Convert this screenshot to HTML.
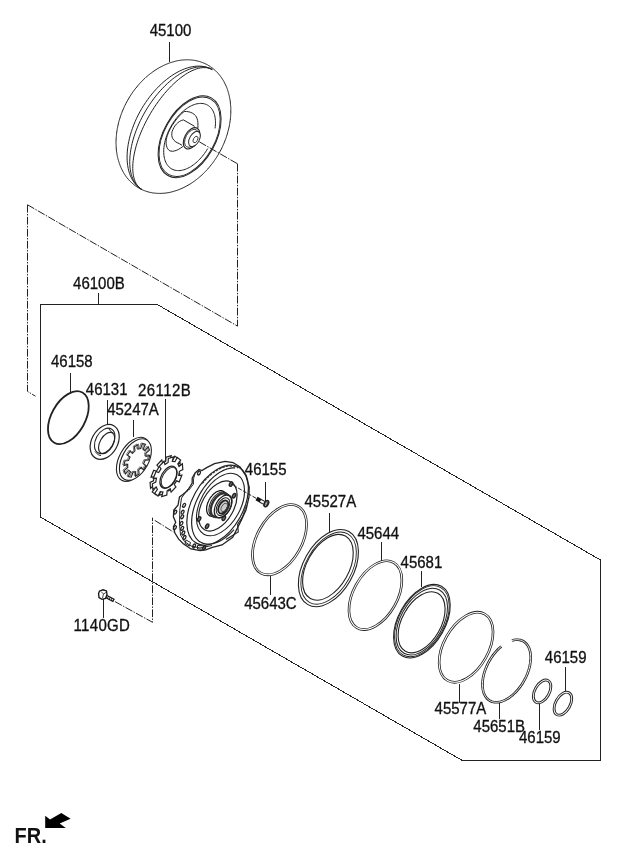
<!DOCTYPE html>
<html><head><meta charset="utf-8"><style>
html,body{margin:0;padding:0;background:#fff;}
svg{display:block;will-change:transform;}
text{font-family:"Liberation Sans",sans-serif;fill:#111;}
</style></head><body>
<svg width="620" height="848" viewBox="0 0 620 848">
<rect width="620" height="848" fill="#fff"/>
<text transform="translate(149.7 35.8) scale(1 1.05)" font-size="15" font-weight="normal" stroke="#111" stroke-width="0.3">45100</text>
<text transform="translate(73.1 288.9) scale(1 1.05)" font-size="15" font-weight="normal" stroke="#111" stroke-width="0.3">46100B</text>
<text transform="translate(51.0 367.4) scale(1 1.05)" font-size="15" font-weight="normal" stroke="#111" stroke-width="0.3">46158</text>
<text transform="translate(85.8 394.8) scale(1 1.05)" font-size="15" font-weight="normal" stroke="#111" stroke-width="0.3">46131</text>
<text transform="translate(107.19999999999999 414.6) scale(1 1.05)" font-size="15" font-weight="normal" stroke="#111" stroke-width="0.3">45247A</text>
<text transform="translate(137.9 396) scale(1 1.05)" font-size="15" font-weight="normal" stroke="#111" stroke-width="0.3" letter-spacing="0.45">26112B</text>
<text transform="translate(244.79999999999998 474.6) scale(1 1.05)" font-size="15" font-weight="normal" stroke="#111" stroke-width="0.3">46155</text>
<text transform="translate(304.5 507.4) scale(1 1.05)" font-size="15" font-weight="normal" stroke="#111" stroke-width="0.3">45527A</text>
<text transform="translate(357.40000000000003 539) scale(1 1.05)" font-size="15" font-weight="normal" stroke="#111" stroke-width="0.3">45644</text>
<text transform="translate(400.6 568.4) scale(1 1.05)" font-size="15" font-weight="normal" stroke="#111" stroke-width="0.3">45681</text>
<text transform="translate(244.2 608.9) scale(1 1.05)" font-size="15" font-weight="normal" stroke="#111" stroke-width="0.3">45643C</text>
<text transform="translate(73.6 630.6) scale(1 1.05)" font-size="15" font-weight="normal" stroke="#111" stroke-width="0.3" letter-spacing="0.3">1140GD</text>
<text transform="translate(434.6 714) scale(1 1.05)" font-size="15" font-weight="normal" stroke="#111" stroke-width="0.3">45577A</text>
<text transform="translate(473.3 731.6) scale(1 1.05)" font-size="15" font-weight="normal" stroke="#111" stroke-width="0.3">45651B</text>
<text transform="translate(544.8000000000001 662.9) scale(1 1.05)" font-size="15" font-weight="normal" stroke="#111" stroke-width="0.3">46159</text>
<text transform="translate(519.0 742.9) scale(1 1.05)" font-size="15" font-weight="normal" stroke="#111" stroke-width="0.3">46159</text>
<line x1="169.7" y1="42.3" x2="169.7" y2="61.6" stroke="#222" stroke-width="1" shape-rendering="crispEdges"/>
<line x1="98.3" y1="293" x2="98.3" y2="304.4" stroke="#222" stroke-width="1" shape-rendering="crispEdges"/>
<line x1="70.6" y1="373" x2="70.6" y2="392" stroke="#222" stroke-width="1" shape-rendering="crispEdges"/>
<line x1="107.6" y1="399.8" x2="107.6" y2="423.6" stroke="#222" stroke-width="1" shape-rendering="crispEdges"/>
<line x1="133.6" y1="419.5" x2="133.6" y2="437" stroke="#222" stroke-width="1" shape-rendering="crispEdges"/>
<line x1="165" y1="399" x2="165" y2="460.6" stroke="#222" stroke-width="1" shape-rendering="crispEdges"/>
<line x1="265.6" y1="481.6" x2="265.6" y2="501.4" stroke="#222" stroke-width="1" shape-rendering="crispEdges"/>
<line x1="329.6" y1="513" x2="329.6" y2="532" stroke="#222" stroke-width="1" shape-rendering="crispEdges"/>
<line x1="381.7" y1="541.7" x2="381.7" y2="561" stroke="#222" stroke-width="1" shape-rendering="crispEdges"/>
<line x1="421" y1="570.6" x2="421" y2="586.8" stroke="#222" stroke-width="1" shape-rendering="crispEdges"/>
<line x1="270.6" y1="574.6" x2="270.6" y2="594.6" stroke="#222" stroke-width="1" shape-rendering="crispEdges"/>
<line x1="103.5" y1="598.7" x2="103.5" y2="618" stroke="#222" stroke-width="1" shape-rendering="crispEdges"/>
<line x1="459.2" y1="683.5" x2="459.2" y2="703" stroke="#222" stroke-width="1" shape-rendering="crispEdges"/>
<line x1="499.5" y1="703" x2="499.5" y2="719" stroke="#222" stroke-width="1" shape-rendering="crispEdges"/>
<line x1="565.3" y1="667" x2="565.3" y2="691.3" stroke="#222" stroke-width="1" shape-rendering="crispEdges"/>
<line x1="539.2" y1="703.7" x2="539.2" y2="730.3" stroke="#222" stroke-width="1" shape-rendering="crispEdges"/>
<polyline points="40.5,517.1 40.5,304.5 157.3,304.5 600.5,560 600.5,760 461.4,760 40.5,517.1" fill="none" stroke="#222" stroke-width="1" shape-rendering="crispEdges"/>
<polyline points="27.5,204.8 27.5,391.4 35.5,396.2" fill="none" stroke="#222" stroke-width="1" stroke-dasharray="7.8,1.4,1.4,1.4"/>
<polyline points="27.5,204.8 237.5,326.1" fill="none" stroke="#222" stroke-width="1" stroke-dasharray="7.8,1.4,1.4,1.4"/>
<polyline points="237.5,163.7 237.5,326.1" fill="none" stroke="#222" stroke-width="1" stroke-dasharray="7.8,1.4,1.4,1.4"/>
<polyline points="115,601.6 152.5,622.3 152.5,517.7" fill="none" stroke="#222" stroke-width="1" stroke-dasharray="7.8,1.4,1.4,1.4"/>
<polyline points="154.8,520.4 173.4,532" fill="none" stroke="#222" stroke-width="1" stroke-dasharray="7.8,1.4,1.4,1.4"/>
<line x1="105" y1="595.8" x2="114" y2="600.6" stroke="#111" stroke-width="3.6"/>
<line x1="106.5" y1="596.6" x2="113.2" y2="600.2" stroke="#fff" stroke-width="1.3" stroke-dasharray="1.2,0.8"/>
<polygon points="99.5,591 103,589.8 106.5,591 107,594.5 105.5,598.5 102,599.3 99,597.5 98.6,593.5" fill="#fff" stroke="#111" stroke-width="1.3"/>
<path d="M101,591.5 L103.5,594 L106,592.5 M103.5,594 L102.5,598" fill="none" stroke="#333" stroke-width="0.9"/>
<ellipse cx="68.35" cy="417.7" rx="28.80" ry="16.88" transform="rotate(-60.7 68.35 417.7)" fill="none" stroke="#222" stroke-width="1.8"/>
<ellipse cx="104.7" cy="441.9" rx="18.60" ry="13.00" transform="rotate(-60.7 104.7 441.9)" fill="#fff" stroke="#222" stroke-width="1.2"/>
<ellipse cx="104.7" cy="440.9" rx="13.70" ry="8.90" transform="rotate(-60.7 104.7 440.9)" fill="none" stroke="#222" stroke-width="1.1"/>
<ellipse cx="106.6" cy="443" rx="11.60" ry="6.60" transform="rotate(-60.7 106.6 443)" fill="none" stroke="#222" stroke-width="1.1"/>
<polyline points="108.5,428.5 111.5,432 113.5,433" fill="none" stroke="#222" stroke-width="1"/>
<polyline points="95,451.5 98.5,455 101,455.5" fill="none" stroke="#222" stroke-width="1"/>
<ellipse cx="133.4" cy="459.35" rx="24.00" ry="14.06" transform="rotate(-60.7 133.4 459.35)" fill="#fff" stroke="#222" stroke-width="1.1"/>
<ellipse cx="135.4" cy="459.6" rx="22.60" ry="13.24" transform="rotate(-60.7 135.4 459.6)" fill="#fff" stroke="#222" stroke-width="1.1"/>
<g transform="matrix(0.4894,-0.8721,0.5110,0.2868,136.8,460.4)"><path d="M17.39,-5.69 L18.29,-0.61 L13.00,-0.15 L12.46,3.72 L17.41,5.62 L15.15,10.26 L10.60,7.52 L7.89,10.33 L10.78,14.79 L6.23,17.21 L4.16,12.32 L0.31,13.00 L0.03,18.30 L-5.07,17.58 L-3.88,12.41 L-7.39,10.70 L-10.73,14.82 L-14.44,11.24 L-10.43,7.76 L-12.26,4.31 L-17.39,5.69 L-18.29,0.61 L-13.00,0.15 L-12.46,-3.72 L-17.41,-5.62 L-15.15,-10.26 L-10.60,-7.52 L-7.89,-10.33 L-10.78,-14.79 L-6.23,-17.21 L-4.16,-12.32 L-0.31,-13.00 L-0.03,-18.30 L5.07,-17.58 L3.88,-12.41 L7.39,-10.70 L10.73,-14.82 L14.44,-11.24 L10.43,-7.76 L12.26,-4.31Z" fill="none" stroke="#222" stroke-width="1.1" vector-effect="non-scaling-stroke"/></g>
<g transform="matrix(0.4894,-0.8721,0.5110,0.2868,135.6,459.8)"><path d="M17.39,-5.69 L18.29,-0.61 L13.00,-0.15 L12.46,3.72 L17.41,5.62 L15.15,10.26 L10.60,7.52 L7.89,10.33 L10.78,14.79 L6.23,17.21 L4.16,12.32 L0.31,13.00 L0.03,18.30 L-5.07,17.58 L-3.88,12.41 L-7.39,10.70 L-10.73,14.82 L-14.44,11.24 L-10.43,7.76 L-12.26,4.31 L-17.39,5.69 L-18.29,0.61 L-13.00,0.15 L-12.46,-3.72 L-17.41,-5.62 L-15.15,-10.26 L-10.60,-7.52 L-7.89,-10.33 L-10.78,-14.79 L-6.23,-17.21 L-4.16,-12.32 L-0.31,-13.00 L-0.03,-18.30 L5.07,-17.58 L3.88,-12.41 L7.39,-10.70 L10.73,-14.82 L14.44,-11.24 L10.43,-7.76 L12.26,-4.31Z" fill="none" stroke="#444" stroke-width="0.7" vector-effect="non-scaling-stroke"/></g>
<g transform="matrix(0.4894,-0.8721,0.5110,0.2868,165.3,475.4)"><path d="M15.73,-5.90 L16.72,-1.59 L21.52,-1.85 L20.87,5.55 L16.19,4.47 L14.47,8.54 L18.50,11.16 L13.62,16.76 L10.47,13.14 L6.68,15.41 L8.41,19.90 L1.17,21.57 L0.75,16.78 L-3.65,16.40 L-4.90,21.04 L-11.73,18.14 L-9.26,14.02 L-12.59,11.12 L-16.33,14.14 L-20.15,7.78 L-15.73,5.90 L-16.72,1.59 L-21.52,1.85 L-20.87,-5.55 L-16.19,-4.47 L-14.47,-8.54 L-18.50,-11.16 L-13.62,-16.76 L-10.47,-13.14 L-6.68,-15.41 L-8.41,-19.90 L-1.17,-21.57 L-0.75,-16.78 L3.65,-16.40 L4.90,-21.04 L11.73,-18.14 L9.26,-14.02 L12.59,-11.12 L16.33,-14.14 L20.15,-7.78Z" fill="#fff" stroke="#222" stroke-width="1.2" vector-effect="non-scaling-stroke"/></g>
<g transform="matrix(0.4894,-0.8721,0.5110,0.2868,167.6,476.7)"><path d="M15.73,-5.90 L16.72,-1.59 L21.52,-1.85 L20.87,5.55 L16.19,4.47 L14.47,8.54 L18.50,11.16 L13.62,16.76 L10.47,13.14 L6.68,15.41 L8.41,19.90 L1.17,21.57 L0.75,16.78 L-3.65,16.40 L-4.90,21.04 L-11.73,18.14 L-9.26,14.02 L-12.59,11.12 L-16.33,14.14 L-20.15,7.78 L-15.73,5.90 L-16.72,1.59 L-21.52,1.85 L-20.87,-5.55 L-16.19,-4.47 L-14.47,-8.54 L-18.50,-11.16 L-13.62,-16.76 L-10.47,-13.14 L-6.68,-15.41 L-8.41,-19.90 L-1.17,-21.57 L-0.75,-16.78 L3.65,-16.40 L4.90,-21.04 L11.73,-18.14 L9.26,-14.02 L12.59,-11.12 L16.33,-14.14 L20.15,-7.78Z" fill="#fff" stroke="#222" stroke-width="1.2" vector-effect="non-scaling-stroke"/></g>
<ellipse cx="168.4" cy="477.2" rx="12.00" ry="7.03" transform="rotate(-60.7 168.4 477.2)" fill="none" stroke="#222" stroke-width="1.3"/>
<ellipse cx="169.2" cy="477.7" rx="11.20" ry="6.56" transform="rotate(-60.7 169.2 477.7)" fill="none" stroke="#222" stroke-width="0.9"/>
<ellipse cx="279.5" cy="539.7" rx="38.20" ry="22.39" transform="rotate(-60.7 279.5 539.7)" fill="none" stroke="#222" stroke-width="2.6"/>
<ellipse cx="279.5" cy="539.7" rx="38.20" ry="22.39" transform="rotate(-60.7 279.5 539.7)" fill="none" stroke="#fff" stroke-width="1.0"/>
<ellipse cx="328.4" cy="568.1" rx="41.90" ry="25.14" transform="rotate(-60.7 328.4 568.1)" fill="none" stroke="#222" stroke-width="1.1"/>
<ellipse cx="328.6" cy="568.1" rx="39.20" ry="22.97" transform="rotate(-60.7 328.6 568.1)" fill="none" stroke="#222" stroke-width="0.9"/>
<ellipse cx="327.9" cy="567.3" rx="35.80" ry="20.98" transform="rotate(-60.7 327.9 567.3)" fill="none" stroke="#222" stroke-width="1.1"/>
<ellipse cx="375.4" cy="595.15" rx="37.40" ry="21.92" transform="rotate(-60.7 375.4 595.15)" fill="none" stroke="#222" stroke-width="2.6"/>
<ellipse cx="375.4" cy="595.15" rx="37.40" ry="21.92" transform="rotate(-60.7 375.4 595.15)" fill="none" stroke="#fff" stroke-width="1.0"/>
<ellipse cx="421.9" cy="621.2" rx="40.00" ry="23.44" transform="rotate(-60.7 421.9 621.2)" fill="none" stroke="#222" stroke-width="1.1"/>
<ellipse cx="421.9" cy="621.2" rx="38.60" ry="22.62" transform="rotate(-60.7 421.9 621.2)" fill="none" stroke="#222" stroke-width="0.9"/>
<ellipse cx="421.8" cy="621.6" rx="36.30" ry="21.27" transform="rotate(-60.7 421.8 621.6)" fill="none" stroke="#222" stroke-width="1"/>
<ellipse cx="421.6" cy="622.3" rx="33.20" ry="19.46" transform="rotate(-60.7 421.6 622.3)" fill="none" stroke="#222" stroke-width="1.1"/>
<ellipse cx="466.1" cy="647.25" rx="38.10" ry="22.33" transform="rotate(-60.7 466.1 647.25)" fill="none" stroke="#222" stroke-width="2.6"/>
<ellipse cx="466.1" cy="647.25" rx="38.10" ry="22.33" transform="rotate(-60.7 466.1 647.25)" fill="none" stroke="#fff" stroke-width="1.0"/>
<polyline points="511.93,640.47 513.07,640.17 514.19,639.94 515.29,639.79 516.38,639.71 517.44,639.7 518.48,639.77 519.48,639.91 520.46,640.13 521.4,640.41 522.31,640.77 523.19,641.21 524.02,641.71 524.81,642.28 525.56,642.92 526.26,643.62 526.92,644.4 527.53,645.23 528.09,646.12 528.59,647.08 529.05,648.09 529.45,649.15 529.8,650.27 530.1,651.43 530.34,652.65 530.52,653.9 530.64,655.2 530.71,656.53 530.73,657.9 530.68,659.29 530.58,660.72 530.42,662.17 530.2,663.64 529.93,665.13 529.61,666.63 529.23,668.14 528.79,669.66 528.3,671.19 527.77,672.71 527.18,674.23 526.54,675.74 525.86,677.24 525.13,678.72 524.35,680.19 523.54,681.63 522.68,683.05 521.79,684.44 520.86,685.8 519.9,687.12 518.9,688.41 517.88,689.65 516.83,690.86 515.75,692.01 514.65,693.11 513.54,694.16 512.41,695.16 511.26,696.1 510.1,696.98 508.94,697.8 507.77,698.55 506.6,699.24 505.42,699.87 504.25,700.42 503.09,700.91 501.93,701.32 500.78,701.66 499.65,701.93 498.54,702.13 497.44,702.25 496.37,702.3 495.32,702.28 494.29,702.18 493.3,702.01 492.33,701.76 491.4,701.44 490.51,701.05 489.66,700.59 488.84,700.06 488.07,699.46 487.34,698.79 486.65,698.05 486.02,697.26 485.43,696.4 484.89,695.48 484.4,694.5 483.97,693.46 483.59,692.38 483.26,691.24 482.99,690.06 482.78,688.82 482.62,687.55 482.52,686.24 482.47,684.89 482.49,683.51 482.56,682.1 482.68,680.67 482.87,679.21 483.1,677.73 483.4,676.23 483.75,674.73 484.15,673.21 484.61,671.69 485.12,670.17 485.68,668.64 486.29,667.13 486.94,665.62 487.65,664.13 488.4,662.65 489.19,661.19 490.02,659.76 490.89,658.35 491.8,656.98 492.75,655.63 493.72,654.32 494.73,653.05 495.77,651.83 496.83,650.65 497.91,649.51 499.02,648.43 500.14,647.4 501.28,646.43" fill="none" stroke="#222" stroke-width="2.6"/>
<polyline points="511.93,640.47 513.07,640.17 514.19,639.94 515.29,639.79 516.38,639.71 517.44,639.7 518.48,639.77 519.48,639.91 520.46,640.13 521.4,640.41 522.31,640.77 523.19,641.21 524.02,641.71 524.81,642.28 525.56,642.92 526.26,643.62 526.92,644.4 527.53,645.23 528.09,646.12 528.59,647.08 529.05,648.09 529.45,649.15 529.8,650.27 530.1,651.43 530.34,652.65 530.52,653.9 530.64,655.2 530.71,656.53 530.73,657.9 530.68,659.29 530.58,660.72 530.42,662.17 530.2,663.64 529.93,665.13 529.61,666.63 529.23,668.14 528.79,669.66 528.3,671.19 527.77,672.71 527.18,674.23 526.54,675.74 525.86,677.24 525.13,678.72 524.35,680.19 523.54,681.63 522.68,683.05 521.79,684.44 520.86,685.8 519.9,687.12 518.9,688.41 517.88,689.65 516.83,690.86 515.75,692.01 514.65,693.11 513.54,694.16 512.41,695.16 511.26,696.1 510.1,696.98 508.94,697.8 507.77,698.55 506.6,699.24 505.42,699.87 504.25,700.42 503.09,700.91 501.93,701.32 500.78,701.66 499.65,701.93 498.54,702.13 497.44,702.25 496.37,702.3 495.32,702.28 494.29,702.18 493.3,702.01 492.33,701.76 491.4,701.44 490.51,701.05 489.66,700.59 488.84,700.06 488.07,699.46 487.34,698.79 486.65,698.05 486.02,697.26 485.43,696.4 484.89,695.48 484.4,694.5 483.97,693.46 483.59,692.38 483.26,691.24 482.99,690.06 482.78,688.82 482.62,687.55 482.52,686.24 482.47,684.89 482.49,683.51 482.56,682.1 482.68,680.67 482.87,679.21 483.1,677.73 483.4,676.23 483.75,674.73 484.15,673.21 484.61,671.69 485.12,670.17 485.68,668.64 486.29,667.13 486.94,665.62 487.65,664.13 488.4,662.65 489.19,661.19 490.02,659.76 490.89,658.35 491.8,656.98 492.75,655.63 493.72,654.32 494.73,653.05 495.77,651.83 496.83,650.65 497.91,649.51 499.02,648.43 500.14,647.4 501.28,646.43" fill="none" stroke="#fff" stroke-width="1.0"/>
<ellipse cx="542.1" cy="691.45" rx="12.40" ry="7.27" transform="rotate(-60.7 542.1 691.45)" fill="none" stroke="#222" stroke-width="2.8"/>
<ellipse cx="542.1" cy="691.45" rx="12.40" ry="7.27" transform="rotate(-60.7 542.1 691.45)" fill="none" stroke="#fff" stroke-width="0.9"/>
<ellipse cx="562.9" cy="703.7" rx="12.50" ry="7.32" transform="rotate(-60.7 562.9 703.7)" fill="none" stroke="#222" stroke-width="2.8"/>
<ellipse cx="562.9" cy="703.7" rx="12.50" ry="7.32" transform="rotate(-60.7 562.9 703.7)" fill="none" stroke="#fff" stroke-width="0.9"/>
<path d="M116.0,142.3 L116.0,141.2 L116.1,140.1 L116.1,138.9 L116.2,137.8 L116.3,136.6 L116.4,135.5 L116.5,134.3 L116.6,133.1 L116.8,132.0 L117.0,130.8 L117.1,129.7 L117.3,128.5 L117.6,127.3 L117.8,126.2 L118.1,125.0 L118.6,122.7 L118.9,121.5 L119.2,120.3 L119.6,119.2 L120.0,118.0 L120.3,116.9 L120.7,115.7 L121.1,114.6 L121.5,113.4 L122.0,112.3 L122.4,111.1 L122.9,110.0 L123.4,108.9 L123.9,107.8 L124.4,106.6 L124.9,105.5 L126.0,103.3 L127.2,101.2 L127.8,100.1 L128.4,99.0 L129.0,98.0 L129.6,96.9 L130.3,95.9 L131.0,94.8 L131.7,93.8 L132.3,92.8 L133.0,91.8 L133.8,90.8 L134.5,89.8 L135.2,88.9 L136.8,87.0 L137.5,86.0 L138.3,85.1 L139.1,84.2 L139.9,83.3 L140.7,82.4 L141.6,81.6 L142.4,80.7 L143.2,79.9 L144.1,79.0 L145.0,78.2 L145.8,77.4 L146.7,76.7 L147.6,75.9 L148.5,75.1 L149.4,74.4 L150.3,73.7 L151.3,73.0 L152.2,72.3 L153.1,71.6 L154.1,71.0 L155.0,70.3 L156.0,69.7 L156.9,69.1 L157.9,68.5 L158.8,68.0 L159.8,67.4 L160.8,66.9 L161.8,66.4 L162.8,65.9 L163.7,65.4 L164.7,64.9 L165.7,64.5 L166.7,64.1 L167.7,63.7 L168.7,63.3 L169.7,62.9 L170.7,62.6 L171.7,62.3 L172.7,62.0 L173.7,61.7 L174.7,61.4 L175.7,61.2 L176.7,60.9 L177.7,60.7 L178.7,60.5 L179.7,60.4 L180.7,60.2 L181.7,60.1 L182.7,60.0 L183.7,59.9 L184.7,59.9 L185.6,59.8 L186.6,59.8 L187.6,59.8 L188.6,59.8 L189.5,59.9 L190.5,59.9 L191.4,60.0 L192.4,60.1 L193.3,60.2 L194.3,60.3 L195.2,60.5 L196.1,60.7 L197.0,60.9 L197.9,61.1 L198.8,61.3 L199.7,61.6 L200.6,61.9 L201.5,62.2 L202.4,62.5 L203.2,62.8 L204.1,63.2 L204.9,63.6 L205.8,64.0 L206.6,64.4 L207.4,64.8 L208.2,65.3 L209.0,65.8 L209.8,66.2 L210.5,66.8 L211.3,67.3 L212.0,67.8 L212.8,68.4 L213.5,69.0 L214.2,69.6 L214.9,70.2 L215.6,70.8 L216.3,71.5 L216.9,72.1 L217.6,72.8 L218.2,73.5 L218.8,74.2 L219.4,75.0 L220.0,75.7 L220.6,76.5 L221.2,77.2 L221.7,78.0 L222.2,78.8 L222.8,79.7 L223.3,80.5 L223.8,81.4 L224.2,82.2 L224.7,83.1 L225.1,84.0 L225.6,84.9 L226.0,85.8 L226.4,86.8 L226.8,87.7 L227.1,88.6 L227.5,89.6 L227.8,90.6 L228.1,91.6 L228.4,92.6 L228.7,93.6 L228.9,94.6 L229.2,95.6 L229.4,96.7 L229.6,97.7 L229.8,98.8 L230.0,99.8 L230.2,100.9 L230.3,102.0 L230.4,103.1 L230.5,104.2 L230.6,105.3 L230.7,106.4 L230.8,107.5 L230.8,108.6 L230.8,109.7 L230.8,110.9 L230.8,112.0 L230.8,113.1 L230.7,114.3 L230.7,115.4 L230.6,116.6 L230.5,117.7 L230.4,118.9 L230.2,120.1 L230.1,121.2 L229.7,123.5 L229.5,124.7 L229.3,125.9 L229.1,127.0 L228.8,128.2 L228.2,130.5 L227.9,131.7 L227.6,132.9 L227.3,134.0 L226.9,135.2 L226.5,136.3 L226.2,137.5 L225.8,138.6 L225.3,139.8 L224.9,140.9 L224.4,142.1 L224.0,143.2 L223.5,144.3 L223.0,145.4 L222.5,146.6 L222.0,147.7 L220.9,149.9 L219.7,152.0 L219.1,153.1 L218.5,154.2 L217.9,155.2 L217.2,156.3 L216.6,157.3 L215.9,158.3 L215.2,159.4 L214.5,160.4 L213.8,161.4 L213.1,162.4 L212.4,163.4 L211.6,164.3 L210.1,166.2 L209.3,167.2 L208.5,168.1 L207.8,169.0 L206.9,169.9 L206.1,170.8 L205.3,171.6 L204.4,172.5 L203.6,173.3 L202.8,174.2 L201.9,175.0 L201.0,175.8 L200.1,176.5 L199.2,177.3 L198.3,178.1 L197.4,178.8 L196.5,179.5 L195.6,180.2 L194.7,180.9 L193.7,181.6 L192.8,182.2 L191.8,182.9 L190.9,183.5 L189.9,184.1 L189.0,184.7 L188.0,185.2 L187.0,185.8 L186.1,186.3 L185.1,186.8 L184.1,187.3 L183.1,187.8 L182.1,188.3 L181.1,188.7 L180.2,189.1 L179.2,189.5 L178.2,189.9 L177.2,190.3 L176.2,190.6 L175.2,190.9 L174.2,191.2 L173.2,191.5 L172.2,191.8 L171.2,192.0 L170.2,192.3 L169.2,192.5 L168.2,192.7 L167.2,192.8 L166.2,193.0 L165.2,193.1 L164.2,193.2 L163.2,193.3 L162.2,193.3 L161.2,193.4 L160.2,193.4 L159.3,193.4 L158.3,193.4 L157.3,193.3 L156.4,193.3 L155.4,193.2 L154.5,193.1 L153.5,193.0 L152.6,192.9 L151.7,192.7 L150.8,192.5 L149.8,192.3 L148.9,192.1 L148.0,191.9 L147.1,191.6 L146.2,191.3 L145.4,191.0 L144.5,190.7 L143.6,190.4 L142.8,190.0 L141.9,189.6 L141.1,189.2 L140.3,188.8 L139.5,188.4 L138.7,187.9 L137.9,187.4 L137.1,187.0 L136.3,186.4 L135.6,185.9 L134.8,185.4 L134.1,184.8 L133.4,184.2 L132.7,183.6 L131.9,183.0 L131.3,182.4 L130.6,181.7 L129.9,181.1 L129.3,180.4 L128.7,179.7 L128.0,179.0 L127.4,178.2 L126.8,177.5 L126.2,176.7 L125.7,175.9 L125.1,175.2 L124.6,174.3 L124.1,173.5 L123.6,172.7 L123.1,171.8 L122.6,171.0 L122.2,170.1 L121.7,169.2 L121.3,168.3 L120.9,167.4 L120.5,166.4 L120.1,165.5 L119.8,164.6 L119.4,163.6 L119.1,162.6 L118.8,161.6 L118.5,160.6 L118.2,159.6 L117.9,158.6 L117.7,157.6 L117.4,156.5 L117.2,155.5 L117.0,154.4 L116.9,153.4 L116.7,152.3 L116.5,151.2 L116.4,150.1 L116.3,149.0 L116.2,147.9 L116.2,146.8 L116.1,145.7 L116.1,144.6 L116.0,143.5Z" fill="#fff" stroke="#222" stroke-width="1"/>
<polyline points="212.27,69.62 210.38,68.61 208.39,67.77 206.31,67.1 204.16,66.6 201.93,66.27 199.63,66.12 197.27,66.14 194.86,66.33 192.39,66.7 189.88,67.24 187.34,67.94 184.77,68.82 182.18,69.87 179.58,71.07 176.96,72.44 174.35,73.97 171.74,75.64 169.15,77.47 166.58,79.43 164.04,81.54 161.54,83.77 159.07,86.13 156.66,88.61 154.3,91.2 152.01,93.9 149.78,96.7 147.63,99.58 145.55,102.55 143.57,105.59 141.67,108.69 139.88,111.85 138.18,115.06 136.59,118.31 135.11,121.6 133.75,124.9 132.5,128.21 131.38,131.53 130.38,134.85 129.51,138.15 128.77,141.42 128.16,144.66 127.69,147.86 127.35,151.01 127.14,154.11 127.08,157.13 127.15,160.08 127.36,162.94 127.7,165.72 128.18,168.39 128.79,170.96 129.53,173.41 130.41,175.74 131.41,177.95 132.54,180.02 133.78,181.96 135.15,183.75 136.63,185.39 138.23,186.88 139.93,188.21 141.73,189.38" fill="none" stroke="#222" stroke-width="1"/>
<polyline points="212.27,69.62 210.58,68.73 208.79,68.01 206.92,67.46 204.96,67.07 202.93,66.86 200.83,66.82 198.66,66.96 196.43,67.26 194.15,67.73 191.82,68.38 189.45,69.19 187.05,70.16 184.62,71.3 182.17,72.6 179.7,74.06 177.23,75.66 174.76,77.42 172.29,79.31 169.84,81.35 167.4,83.52 164.99,85.81 162.62,88.22 160.28,90.75 157.99,93.38 155.75,96.11 153.57,98.93 151.46,101.84 149.41,104.82 147.44,107.87 145.55,110.97 143.75,114.13 142.04,117.34 140.42,120.57 138.9,123.83 137.49,127.1 136.19,130.39 135.0,133.67 133.92,136.93 132.96,140.18 132.13,143.4 131.41,146.58 130.82,149.71 130.36,152.79 130.03,155.8 129.82,158.74 129.74,161.61 129.8,164.38 129.98,167.06 130.29,169.63 130.73,172.1 131.29,174.45 131.98,176.67 132.8,178.77 133.73,180.73 134.79,182.55 135.96,184.22 137.24,185.75 138.63,187.12 140.13,188.33 141.73,189.38" fill="none" stroke="#222" stroke-width="1"/>
<polyline points="212.27,69.62 210.83,68.88 209.29,68.3 207.66,67.89 205.95,67.65 204.16,67.59 202.29,67.69 200.36,67.96 198.36,68.39 196.3,69.0 194.19,69.77 192.04,70.71 189.84,71.81 187.6,73.06 185.34,74.47 183.06,76.03 180.75,77.74 178.44,79.59 176.12,81.57 173.81,83.69 171.5,85.93 169.21,88.29 166.95,90.77 164.7,93.35 162.5,96.03 160.33,98.8 158.21,101.66 156.14,104.59 154.12,107.59 152.17,110.65 150.29,113.77 148.48,116.92 146.75,120.11 145.1,123.33 143.54,126.56 142.07,129.8 140.7,133.04 139.42,136.27 138.25,139.48 137.19,142.67 136.23,145.82 135.39,148.92 134.66,151.97 134.04,154.96 133.55,157.88 133.17,160.72 132.91,163.47 132.78,166.14 132.76,168.7 132.87,171.15 133.1,173.49 133.44,175.71 133.91,177.81 134.5,179.77 135.2,181.59 136.01,183.27 136.94,184.8 137.98,186.18 139.13,187.41 140.38,188.48 141.73,189.38" fill="none" stroke="#222" stroke-width="1"/>
<ellipse cx="189.6" cy="136.7" rx="44.50" ry="26.08" transform="rotate(-60.7 189.6 136.7)" fill="none" stroke="#222" stroke-width="1"/>
<ellipse cx="189.6" cy="136.7" rx="43.20" ry="25.32" transform="rotate(-60.7 189.6 136.7)" fill="none" stroke="#222" stroke-width="0.9"/>
<polyline points="207.67,148.6 206.67,150.24 205.62,151.85 204.53,153.41 203.4,154.92 202.23,156.39 201.03,157.81 199.79,159.16 198.53,160.46 197.24,161.69 195.93,162.85 194.6,163.94 193.26,164.96 191.91,165.9 190.55,166.76 189.19,167.54 187.83,168.23 186.48,168.84 185.14,169.36 183.8,169.79 182.49,170.13 181.19,170.38 179.91,170.53 178.67,170.6 177.45,170.57 176.27,170.45 175.12,170.24 174.01,169.93 172.95,169.53 171.93,169.05 170.96,168.48 170.04,167.81 169.18,167.07 168.37,166.24 167.62,165.33 166.93,164.34 166.31,163.28 165.74,162.15 165.25,160.94 164.82,159.67 164.46,158.34 164.17,156.95 163.95,155.5 163.8,154.0 163.72,152.46 163.71,150.87 163.77,149.24 163.91,147.58 164.11,145.9 164.39,144.18 164.73,142.45 165.15,140.7 165.63,138.94 166.18,137.18 166.79,135.42 167.46,133.66 168.2,131.91 169.0,130.17 169.85,128.45 170.75,126.76 171.71,125.09 172.72,123.46 173.78,121.86 174.87,120.31 176.01,118.8 177.19,117.34 178.4,115.94 179.64,114.59 180.91,113.31 182.2,112.09 183.51,110.94 184.84,109.87 186.19,108.86 187.54,107.94 188.9,107.09 190.26,106.33 191.62,105.65 192.97,105.06 194.31,104.56 195.64,104.14 196.96,103.82 198.25,103.59 199.52,103.45 200.76,103.4 201.97,103.45 203.15,103.58 204.29,103.81 205.39,104.14 206.44,104.55 207.45,105.05 208.41,105.64 209.32,106.32 210.18,107.08 210.97,107.92 211.71,108.84 212.39,109.85 213.0,110.92 213.55,112.07 214.04,113.29 214.45,114.57 214.8,115.91 215.08,117.32 215.29,118.77 215.42,120.28 215.49,121.83 215.49,123.43 215.41,125.06 215.26,126.73 215.04,128.42" fill="none" stroke="#222" stroke-width="1"/>
<path d="M184.2,111.5 C190,111 196,114 197.1,118.7 C198,121 198,124 197.9,128 M184.2,111.5 C178,116 170,127 167.3,135.6 C165.5,141 165.5,147 168.9,150.2 C171,152 176,152 183.4,146.1" fill="none" stroke="#222" stroke-width="1"/>
<path d="M183.4,119.9 L194.7,126.4 M183.4,119.9 C178,121 174,126 172.1,131.6 C171,137 172.5,141 179.4,143.7 L182,145.3" fill="none" stroke="#222" stroke-width="1"/>
<ellipse cx="191.5" cy="138.3" rx="11.60" ry="6.80" transform="rotate(-60.7 191.5 138.3)" fill="#fff" stroke="#222" stroke-width="1.1"/>
<ellipse cx="191.5" cy="138.3" rx="9.80" ry="5.74" transform="rotate(-60.7 191.5 138.3)" fill="none" stroke="#222" stroke-width="0.8"/>
<ellipse cx="194.5" cy="139" rx="8.30" ry="4.86" transform="rotate(-60.7 194.5 139)" fill="#fff" stroke="#222" stroke-width="1"/>
<ellipse cx="195.5" cy="139.5" rx="3.50" ry="2.05" transform="rotate(-60.7 195.5 139.5)" fill="none" stroke="#222" stroke-width="0.8"/>
<polyline points="237.3,163.7 198.9,141.6" fill="none" stroke="#222" stroke-width="1" stroke-dasharray="7.8,1.4,1.4,1.4"/>
<polygon points="225.1,461.3 233,462.5 240,467 246,476 249.2,487 249,497 246,510 240,523 232.7,537.3 222,545 212.4,547.4 205.6,549.8 200.2,550.6 191,549 183.3,543.7 178.7,539.1 174.9,533 173.4,526.8 175.7,522.2 173.4,516.8 173.8,510 178,505.3 179.5,496.9 182.5,494.7 187.4,490.8 192.2,483.1 192.2,478.2 195.1,472.9 199,469.5 201.9,470.5 206.7,467.6 214.5,463.7" fill="#fff" stroke="#222" stroke-width="1.3"/>
<polyline points="188,489 181.5,498 179.8,510 179.5,524 180.5,535 184.5,541.5 191,546 200,548 212,545.5" fill="none" stroke="#222" stroke-width="1"/>
<polyline points="195,473.5 193.5,479 193.5,484 189,490" fill="none" stroke="#222" stroke-width="0.9"/>
<ellipse cx="217.6" cy="505.2" rx="43.50" ry="25.49" transform="rotate(-60.7 217.6 505.2)" fill="none" stroke="#222" stroke-width="1.2"/>
<polyline points="233.98,529.56 232.58,531.1 231.15,532.57 229.68,533.97 228.2,535.29 226.69,536.53 225.17,537.69 223.64,538.76 222.1,539.73 220.55,540.62 219.01,541.41 217.47,542.1 215.94,542.69 214.43,543.18 212.94,543.56 211.46,543.84 210.02,544.02 208.6,544.1 207.22,544.06 205.87,543.93 204.57,543.68 203.32,543.34 202.11,542.89 200.95,542.33 199.85,541.68 198.81,540.93 197.83,540.08 196.92,539.14 196.07,538.11 195.28,536.99 194.58,535.78 193.94,534.49 193.38,533.12 192.89,531.68 192.48,530.16 192.16,528.58 191.91,526.94 191.74,525.23 191.65,523.48 191.64,521.68 191.72,519.83 191.87,517.94 192.11,516.03 192.42,514.08 192.82,512.11 193.29,510.13 193.84,508.13 194.47,506.13 195.16,504.13 195.93,502.13 196.77,500.14 197.68,498.17 198.65,496.22 199.68,494.3 200.77,492.41 201.92,490.56 203.12,488.75 204.36,486.99 205.66,485.28 207.0,483.63 208.37,482.04 209.78,480.52 211.22,479.06 212.69,477.68 214.19,476.38 215.7,475.16 217.22,474.03 218.76,472.99 220.3,472.03 221.84,471.17 223.38,470.41 224.92,469.74 226.44,469.18 227.95,468.72 229.44,468.36 230.91,468.1 232.35,467.95 233.76,467.9 235.13,467.96" fill="none" stroke="#222" stroke-width="1.2"/>
<ellipse cx="220.5" cy="504.5" rx="34.00" ry="19.92" transform="rotate(-60.7 220.5 504.5)" fill="none" stroke="#222" stroke-width="1.1"/>
<ellipse cx="217.85" cy="506" rx="27.20" ry="15.94" transform="rotate(-60.7 217.85 506)" fill="none" stroke="#222" stroke-width="1.2"/>
<ellipse cx="184.1" cy="505.3" rx="2.10" ry="1.23" transform="rotate(-60.7 184.1 505.3)" fill="none" stroke="#222" stroke-width="1.3"/>
<ellipse cx="182.6" cy="512.2" rx="2.10" ry="1.23" transform="rotate(-60.7 182.6 512.2)" fill="none" stroke="#222" stroke-width="1.3"/>
<ellipse cx="182.2" cy="516.8" rx="2.10" ry="1.23" transform="rotate(-60.7 182.2 516.8)" fill="none" stroke="#222" stroke-width="1.3"/>
<ellipse cx="181.4" cy="523.4" rx="2.10" ry="1.23" transform="rotate(-60.7 181.4 523.4)" fill="none" stroke="#222" stroke-width="1.3"/>
<ellipse cx="182.2" cy="528.3" rx="2.10" ry="1.23" transform="rotate(-60.7 182.2 528.3)" fill="none" stroke="#222" stroke-width="1.3"/>
<ellipse cx="183.3" cy="533" rx="2.10" ry="1.23" transform="rotate(-60.7 183.3 533)" fill="none" stroke="#222" stroke-width="1.3"/>
<ellipse cx="184.5" cy="537.5" rx="2.10" ry="1.23" transform="rotate(-60.7 184.5 537.5)" fill="none" stroke="#222" stroke-width="1.3"/>
<ellipse cx="194.1" cy="546" rx="2.10" ry="1.23" transform="rotate(-60.7 194.1 546)" fill="none" stroke="#222" stroke-width="1.3"/>
<ellipse cx="175.3" cy="512.2" rx="2.10" ry="1.23" transform="rotate(-60.7 175.3 512.2)" fill="none" stroke="#222" stroke-width="1.3"/>
<ellipse cx="174.9" cy="527.6" rx="2.10" ry="1.23" transform="rotate(-60.7 174.9 527.6)" fill="none" stroke="#222" stroke-width="1.3"/>
<ellipse cx="199" cy="473" rx="2.10" ry="1.23" transform="rotate(-60.7 199 473)" fill="none" stroke="#222" stroke-width="1.3"/>
<ellipse cx="204.3" cy="547.5" rx="2.10" ry="1.23" transform="rotate(-60.7 204.3 547.5)" fill="none" stroke="#222" stroke-width="1.3"/>
<polygon points="186,540 190.5,542.5 189.5,546 185,543.5" fill="none" stroke="#222" stroke-width="1"/>
<polygon points="197.5,545.5 205,546 205,549.3 197.5,549" fill="none" stroke="#222" stroke-width="1"/>
<ellipse cx="231" cy="484.1" rx="2.40" ry="1.41" transform="rotate(-60.7 231 484.1)" fill="#777" stroke="#222" stroke-width="1.4"/>
<ellipse cx="234" cy="495.7" rx="2.40" ry="1.41" transform="rotate(-60.7 234 495.7)" fill="#777" stroke="#222" stroke-width="1.4"/>
<ellipse cx="223.8" cy="518.2" rx="2.40" ry="1.41" transform="rotate(-60.7 223.8 518.2)" fill="#777" stroke="#222" stroke-width="1.4"/>
<ellipse cx="207.1" cy="526.2" rx="2.40" ry="1.41" transform="rotate(-60.7 207.1 526.2)" fill="#777" stroke="#222" stroke-width="1.4"/>
<ellipse cx="199.1" cy="519" rx="2.40" ry="1.41" transform="rotate(-60.7 199.1 519)" fill="#777" stroke="#222" stroke-width="1.4"/>
<polyline points="202.31,483.39 203.67,481.72 205.07,480.11 206.5,478.58 207.96,477.11 209.45,475.72 210.96,474.41 212.49,473.18 214.04,472.04 215.59,470.98 217.15,470.02 218.72,469.15 220.28,468.38 221.83,467.71 223.37,467.14 224.9,466.68 226.41,466.32 227.89,466.06 229.35,465.91 230.78,465.86 232.17,465.92 233.52,466.09 234.82,466.36 236.08,466.74 237.29,467.22 238.45,467.8" fill="none" stroke="#333" stroke-width="1.5" stroke-dasharray="2.5,1.2"/>
<polyline points="242.5,517 237.6,524.5 238.3,532 226,539.5" fill="none" stroke="#222" stroke-width="1.1"/>
<polyline points="246.5,505 241,521" fill="none" stroke="#222" stroke-width="0.9"/>
<path d="M206.6,508.9 L206.6,507.9 L206.7,507.6 L206.7,507.4 L206.7,507.2 L206.8,506.6 L206.9,505.9 L207.0,505.5 L207.1,505.0 L207.2,504.6 L207.3,504.4 L207.4,503.9 L207.5,503.7 L207.7,503.0 L207.9,502.6 L208.0,502.3 L208.2,501.9 L208.3,501.7 L208.4,501.4 L208.6,501.0 L208.7,500.8 L208.8,500.6 L209.1,499.9 L209.5,499.3 L209.7,498.9 L209.8,498.6 L210.1,498.2 L210.2,498.0 L210.5,497.6 L210.6,497.4 L210.8,497.2 L211.1,496.8 L211.4,496.5 L211.7,496.1 L211.8,495.9 L212.1,495.6 L212.4,495.2 L212.6,495.0 L212.9,494.7 L213.1,494.5 L213.4,494.2 L213.6,494.1 L213.9,493.8 L214.2,493.5 L214.4,493.3 L214.6,493.2 L214.9,492.9 L215.1,492.8 L215.4,492.6 L215.6,492.5 L216.1,492.1 L216.6,491.8 L216.8,491.7 L217.0,491.6 L217.3,491.5 L217.5,491.4 L217.7,491.3 L217.8,491.3 L218.2,491.1 L218.3,491.1 L218.5,491.0 L218.9,490.9 L219.0,490.9 L219.2,490.8 L219.4,490.8 L219.5,490.8 L219.8,490.7 L220.0,490.7 L220.3,490.7 L220.5,490.6 L221.0,490.6 L221.3,490.7 L221.4,490.7 L221.6,490.7 L221.7,490.7 L221.9,490.8 L222.2,490.8 L222.4,490.9 L222.6,490.9 L222.8,491.0 L223.2,491.2 L223.5,491.4 L223.7,491.5 L229.4,495.4 L229.6,495.6 L229.8,495.8 L229.9,495.8 L230.1,496.0 L230.3,496.2 L230.4,496.3 L230.5,496.4 L230.5,496.5 L230.6,496.6 L230.7,496.7 L230.8,496.9 L230.9,497.1 L231.0,497.2 L231.1,497.5 L231.2,497.7 L231.3,497.9 L231.4,498.1 L231.5,498.3 L231.6,498.6 L231.6,498.7 L231.7,499.1 L231.7,499.2 L231.8,499.5 L231.8,499.7 L231.8,500.0 L231.9,500.4 L231.9,500.6 L231.9,500.7 L231.9,500.9 L231.9,501.3 L231.9,502.0 L231.9,502.4 L231.8,503.0 L231.8,503.1 L231.8,503.4 L231.7,503.7 L231.7,503.9 L231.5,504.5 L231.5,504.7 L231.3,505.3 L231.2,505.7 L231.1,506.1 L230.8,506.9 L230.7,507.1 L230.6,507.6 L230.5,507.8 L230.1,508.8 L229.7,509.5 L229.6,509.7 L229.1,510.5 L228.9,510.9 L228.6,511.2 L228.5,511.4 L228.4,511.6 L228.0,512.1 L227.8,512.5 L227.5,512.8 L227.2,513.1 L226.9,513.5 L226.8,513.6 L226.7,513.8 L226.5,513.9 L226.2,514.2 L225.9,514.5 L225.6,514.8 L225.3,515.1 L225.2,515.2 L224.9,515.4 L224.7,515.6 L224.4,515.8 L224.3,515.9 L224.0,516.1 L223.8,516.2 L223.7,516.3 L223.5,516.4 L223.3,516.5 L223.0,516.7 L222.9,516.8 L222.7,516.9 L222.4,517.0 L222.1,517.2 L221.9,517.2 L221.8,517.3 L221.5,517.4 L221.3,517.5 L221.0,517.6 L220.6,517.7 L220.1,517.8 L220.0,517.8 L219.8,517.8 L219.3,517.9 L219.1,517.9 L218.8,517.9 L218.6,517.8 L218.4,517.8 L218.2,517.8 L210.8,516.2 L210.6,516.1 L210.4,516.1 L210.2,516.0 L209.9,515.8 L209.8,515.8 L209.5,515.6 L209.3,515.5 L209.2,515.4 L209.1,515.3 L208.9,515.2 L208.8,515.1 L208.7,515.0 L208.6,514.9 L208.5,514.8 L208.3,514.6 L208.2,514.5 L208.1,514.4 L207.9,514.1 L207.8,513.9 L207.7,513.7 L207.6,513.6 L207.5,513.5 L207.5,513.3 L207.3,513.0 L207.3,512.9 L207.2,512.6 L207.1,512.4 L207.0,512.1 L206.9,511.9 L206.9,511.7 L206.8,511.4 L206.8,511.2 L206.8,511.0 L206.7,510.8 L206.7,510.5 L206.7,510.3 L206.6,509.9 L206.6,509.5 L206.6,509.1Z" fill="#fff" stroke="#111" stroke-width="1.2"/>
<ellipse cx="218.3" cy="504.3" rx="13.40" ry="7.85" transform="rotate(-60.7 218.3 504.3)" fill="none" stroke="#222" stroke-width="1"/>
<ellipse cx="219.8" cy="505.1" rx="12.90" ry="7.56" transform="rotate(-60.7 219.8 505.1)" fill="none" stroke="#333" stroke-width="2.4"/>
<ellipse cx="223" cy="506.3" rx="12.30" ry="7.21" transform="rotate(-60.7 223 506.3)" fill="#fff" stroke="#222" stroke-width="1.3"/>
<ellipse cx="223" cy="506.6" rx="9.60" ry="5.63" transform="rotate(-60.7 223 506.6)" fill="none" stroke="#222" stroke-width="1"/>
<ellipse cx="223.2" cy="507" rx="7.20" ry="4.22" transform="rotate(-60.7 223.2 507)" fill="#ccc" stroke="#222" stroke-width="1.8"/>
<ellipse cx="224.2" cy="507.5" rx="4.50" ry="2.64" transform="rotate(-60.7 224.2 507.5)" fill="none" stroke="#444" stroke-width="0.8"/>
<polyline points="256,498.2 231,484" fill="none" stroke="#222" stroke-width="1" stroke-dasharray="4,1.5"/>
<line x1="256.5" y1="498.5" x2="261" y2="501" stroke="#111" stroke-width="4.2"/>
<line x1="260.5" y1="500.8" x2="264.5" y2="503" stroke="#222" stroke-width="4.2"/>
<line x1="260.5" y1="500.8" x2="264.5" y2="503" stroke="#fff" stroke-width="2"/>
<ellipse cx="266.3" cy="503.6" rx="3.20" ry="1.88" transform="rotate(-60.7 266.3 503.6)" fill="#fff" stroke="#222" stroke-width="1.7"/>
<ellipse cx="266.8" cy="503.8" rx="1.50" ry="0.88" transform="rotate(-60.7 266.8 503.8)" fill="none" stroke="#222" stroke-width="0.8"/>
<text transform="translate(14.6 843) scale(0.95 1.02)" font-size="21" font-weight="bold">FR.</text>
<polygon points="45.2,815.8 50,819.5 61.3,813 70.6,818.7 59.7,823.5 65.8,827.9 45.2,827.9" fill="#000" stroke="#222" stroke-width="0"/>
</svg></body></html>
